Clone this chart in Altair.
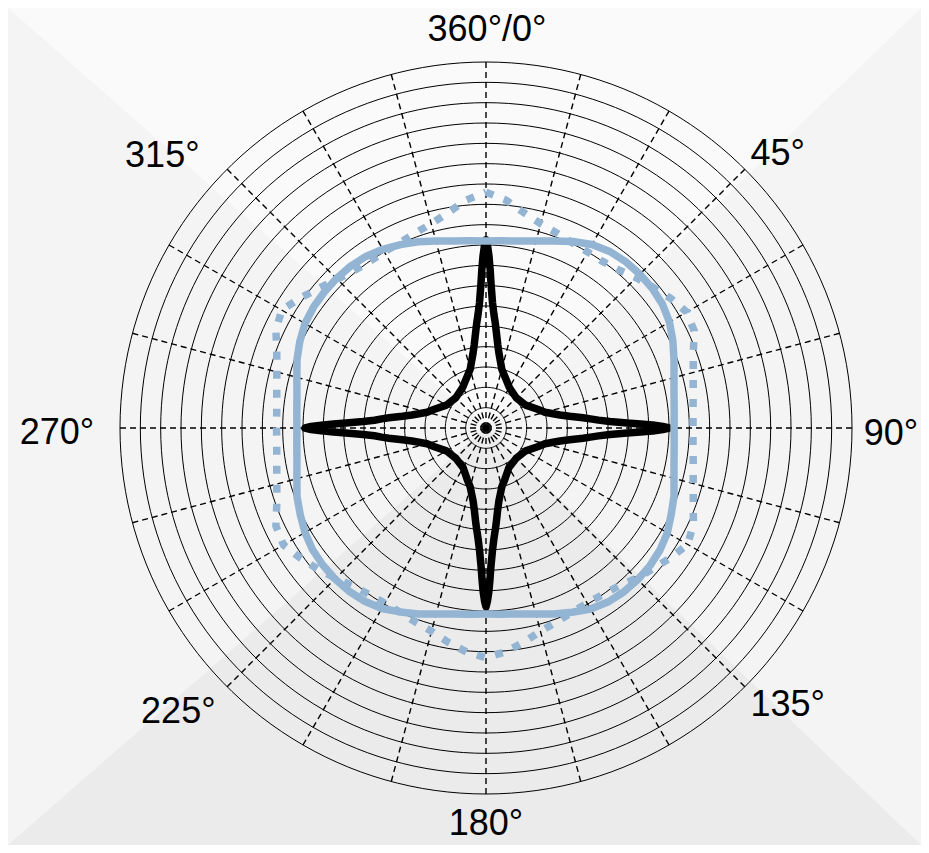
import altair as alt
import pandas as pd

# ---------------- data ----------------
# radial unit = spacing of the grid circles
black_theta = [0, 0.5, 1, 1.5, 2, 3, 4, 5, 6, 8, 10, 15, 20, 30, 45, 60, 70, 75, 80, 82, 84, 85, 86, 87, 88, 88.5, 89, 89.5,
               90, 90.5, 91, 91.5, 92, 93, 94, 95, 96, 98, 100, 105, 110, 120, 135, 150, 160, 165, 170, 172, 174, 175, 176, 177, 178, 178.5, 179, 179.5,
               180, 180.5, 181, 181.5, 182, 183, 184, 185, 186, 188, 190, 195, 200, 210, 225, 240, 250, 255, 260, 262, 264, 265, 266, 267, 268, 268.5, 269, 269.5,
               270, 270.5, 271, 271.5, 272, 273, 274, 275, 276, 278, 280, 285, 290, 300, 315, 330, 340, 345, 350, 352, 354, 355, 356, 357, 358, 358.5, 359, 359.5, 360]
black_r = [9.25, 8.95, 8.45, 7.8, 7.1, 6.15, 5.6, 5.2, 4.8, 4.15, 3.7, 3.0, 2.7, 2.3, 2.1,
           2.25, 2.7, 3.0, 3.7, 4.15, 4.8, 5.15, 5.55, 6.1, 6.95, 7.6, 8.2, 8.7,
           9.0, 8.7, 8.2, 7.6, 6.95, 6.1, 5.55, 5.15, 4.8, 4.15, 3.7, 3.0, 2.7, 2.25, 2.1,
           2.25, 2.7, 3.0, 3.65, 4.1, 4.75, 5.1, 5.5, 6.05, 6.85, 7.45, 8.05, 8.5,
           8.8, 8.5, 8.05, 7.45, 6.85, 6.05, 5.5, 5.1, 4.75, 4.1, 3.65, 3.0, 2.7, 2.25, 2.1,
           2.25, 2.7, 3.0, 3.7, 4.15, 4.8, 5.15, 5.5, 6.05, 6.9, 7.5, 8.1, 8.6,
           8.9, 8.6, 8.1, 7.5, 6.9, 6.05, 5.5, 5.15, 4.8, 4.15, 3.7, 3.0, 2.7, 2.25, 2.1,
           2.3, 2.7, 3.0, 3.7, 4.15, 4.8, 5.2, 5.6, 6.15, 7.1, 7.8, 8.45, 8.95, 9.25]

blue_theta = [0, 5, 10, 15, 20, 25, 30, 35, 40, 45, 50, 55, 60, 65, 70, 75, 80, 85,
              90, 95, 100, 105, 110, 115, 120, 125, 130, 135, 140, 145, 150, 155, 160, 165, 170, 175,
              180, 185, 190, 195, 200, 205, 210, 215, 220, 225, 230, 235, 240, 245, 250, 255, 260, 265,
              270, 275, 280, 285, 290, 295, 300, 305, 310, 315, 320, 325, 330, 335, 340, 345, 350, 355, 360]
solid_r = [9.2, 9.24, 9.34, 9.52, 9.79, 10.12, 10.42, 10.6, 10.68, 10.7, 10.68, 10.6, 10.42, 10.14, 9.84, 9.57, 9.39, 9.29,
           9.25, 9.29, 9.39, 9.57, 9.84, 10.05, 10.3, 10.45, 10.53, 10.55, 10.53, 10.45, 10.28, 10.0, 9.73, 9.47, 9.29, 9.19,
           9.15, 9.19, 9.29, 9.47, 9.73, 9.98, 10.25, 10.4, 10.48, 10.5, 10.48, 10.42, 10.28, 10.08, 9.89, 9.63, 9.44, 9.34,
           9.3, 9.34, 9.44, 9.63, 9.89, 10.1, 10.28, 10.36, 10.39, 10.4, 10.38, 10.3, 10.15, 9.95, 9.75, 9.52, 9.34, 9.24, 9.2]
dotted_r = [11.6, 11.25, 10.75, 10.4, 10.2, 10.05, 10.0, 10.0, 10.15, 10.45, 10.75, 11.1, 11.4, 11.3, 10.85, 10.55, 10.35, 10.22,
            10.18, 10.22, 10.35, 10.55, 10.85, 11.25, 11.45, 11.1, 10.75, 10.45, 10.15, 10.0, 9.95, 10.0, 10.15, 10.35, 10.7, 11.05,
            11.3, 11.05, 10.7, 10.35, 10.15, 10.0, 9.95, 10.0, 10.15, 10.45, 10.8, 11.15, 11.5, 11.4, 10.95, 10.65, 10.45, 10.33,
            10.3, 10.33, 10.45, 10.65, 10.95, 11.4, 11.6, 11.15, 10.7, 10.35, 10.1, 10.0, 10.0, 10.05, 10.2, 10.4, 10.75, 11.25, 11.6]

ring_r = [1, 2, 3, 4, 5, 6, 7, 8, 9, 10, 11, 12, 13, 14, 15, 16, 17, 18]
spoke_theta = [0, 15, 30, 45, 60, 75, 90, 105, 120, 135, 150, 165,
               180, 195, 210, 225, 240, 255, 270, 285, 300, 315, 330, 345]
label_text = ["360°/0°", "45°", "90°", "135°", "180°", "225°", "270°", "315°"]
label_theta = [0, 45, 90, 135, 180, 225, 270, 315]

# ---------------- layout / style ----------------
W, H = 913, 837
K = 366 / 18.0          # px per radial unit
CX, CY = 478, 420       # centre of the polar area inside the plot
X_MIN, X_MAX = -CX / K, (W - CX) / K
Y_MIN, Y_MAX = -(H - CY) / K, CY / K
R_OUT = 18
LABEL_R = 404 / K
BLUE = "#93b5d3"
RING_SAMPLES = list(range(0, 361, 2))   # drawing resolution of grid circles
label_style = {  # dx, dy fine tuning for each label
    "360°/0°": (1, 6), "45°": (6, 12), "90°": (1, 6), "135°": (16, -9),
    "180°": (0, -8), "225°": (-22, -2), "270°": (-25, 5), "315°": (-38, 14),
}

xs = alt.Scale(domain=[X_MIN, X_MAX], nice=False, zero=False)
ys = alt.Scale(domain=[Y_MIN, Y_MAX], nice=False, zero=False)


def X(f):
    return alt.X(f, type="quantitative", scale=xs, axis=None)


def Y(f):
    return alt.Y(f, type="quantitative", scale=ys, axis=None)


def polar_df(theta, r):
    assert len(theta) == len(r), (len(theta), len(r))
    return pd.DataFrame({"t": theta, "r": r, "i": list(range(len(r)))})


xy = dict(px="datum.r*sin(datum.t*PI/180)", py="datum.r*cos(datum.t*PI/180)")

# background triangles
bg = pd.DataFrame({"x": [X_MIN, 0, X_MAX],
                   "top": [Y_MAX, 0, Y_MAX], "topedge": [Y_MAX] * 3,
                   "bot": [Y_MIN, 0, Y_MIN], "botedge": [Y_MIN] * 3})
bg_top = alt.Chart(bg).mark_area(color="#fafafa").encode(x=X("x"), y=Y("top"), y2="topedge:Q")
bg_bot = alt.Chart(bg).mark_area(color="#ebebeb").encode(x=X("x"), y=Y("bot"), y2="botedge:Q")

# grid circles
ring_df = pd.DataFrame({"r": ring_r}).merge(pd.DataFrame({"t": RING_SAMPLES}), how="cross")
rings = alt.Chart(ring_df).transform_calculate(**xy).mark_line(
    color="black", strokeWidth=1
).encode(x=X("px"), y=Y("py"), detail="r:N", order="t:Q")

# dashed spokes
spokes = alt.Chart(pd.DataFrame({"t": spoke_theta})).transform_calculate(
    x0="0", y0="0",
    sx=f"{R_OUT}*sin(datum.t*PI/180)", sy=f"{R_OUT}*cos(datum.t*PI/180)",
).mark_rule(color="black", strokeWidth=1.4, strokeDash=[6, 4]).encode(
    x=X("x0"), y=Y("y0"), x2="sx:Q", y2="sy:Q")

black = alt.Chart(polar_df(black_theta, black_r)).transform_calculate(**xy).mark_line(
    color="black", strokeWidth=7.5, strokeJoin="round", strokeCap="round"
).encode(x=X("px"), y=Y("py"), order="i:Q")

solid = alt.Chart(polar_df(blue_theta, solid_r)).transform_calculate(**xy).mark_line(
    color=BLUE, strokeWidth=7.5, strokeJoin="round"
).encode(x=X("px"), y=Y("py"), order="i:Q")

dotted = alt.Chart(polar_df(blue_theta, dotted_r)).transform_calculate(**xy).mark_line(
    color=BLUE, strokeWidth=7.5, strokeDash=[8, 11], strokeCap="butt"
).encode(x=X("px"), y=Y("py"), order="i:Q")

lab_df = pd.DataFrame({"label": label_text, "t": label_theta})
labels = []
for txt in label_text:
    dx, dy = label_style[txt]
    labels.append(
        alt.Chart(lab_df).transform_filter(alt.datum.label == txt).transform_calculate(
            lx=f"{LABEL_R}*sin(datum.t*PI/180)", ly=f"{LABEL_R}*cos(datum.t*PI/180)"
        ).mark_text(font="Liberation Sans", fontSize=36, color="black",
                    align="center", baseline="middle", dx=dx, dy=dy
        ).encode(x=X("lx"), y=Y("ly"), text="label:N")
    )

chart = alt.layer(bg_top, bg_bot, rings, spokes, black, solid, dotted, *labels).properties(
    width=W, height=H, padding=0, background="#f4f4f4",
    autosize=alt.AutoSizeParams(type="none"),
).configure_view(strokeWidth=0)

chart.save("out.html", embed_options={"renderer": "svg", "actions": False})
